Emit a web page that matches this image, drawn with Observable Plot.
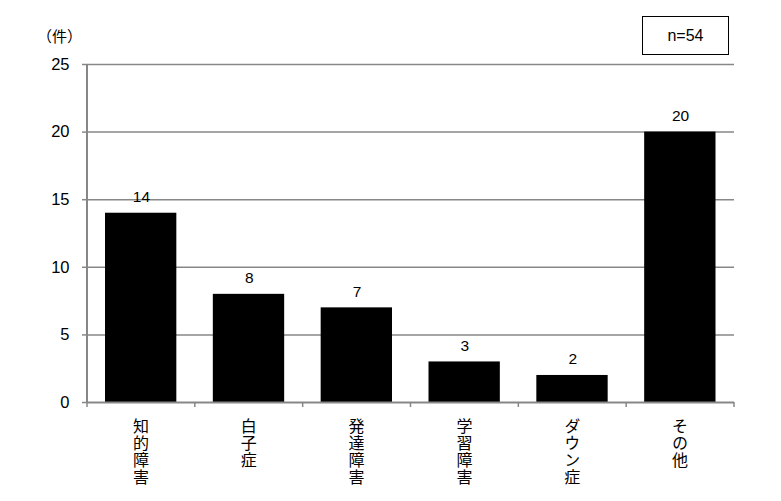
<!DOCTYPE html>
<html><head><meta charset="utf-8">
<script src="https://cdn.jsdelivr.net/npm/d3@7"></script>
<script src="https://cdn.jsdelivr.net/npm/@observablehq/plot@0.6"></script>
<style>
body{margin:0;background:#fff;}
#wrap{position:relative;width:781px;height:501px;}
#nbox{position:absolute;left:642px;top:16px;width:87px;height:39px;border:1.5px solid #000;box-sizing:border-box;
 font-family:"Liberation Sans Narrow","Liberation Sans",Arial,sans-serif;font-size:16px;display:flex;align-items:center;justify-content:center;}
</style></head>
<body><div id="wrap"><div id="nbox">n=54</div></div>
<script>
const categories = ["知的障害","白子症","発達障害","学習障害","ダウン症","その他"];
const counts = [14, 8, 7, 3, 2, 20];
const yTicks = [0, 5, 10, 15, 20, 25];
const unitLabel = "（件）";

const data = categories.map((c, i) => ({cat: c, n: counts[i]}));
const numFont = '"Liberation Sans Narrow","Liberation Sans",Arial,sans-serif';
const jpFont = '"Noto Sans CJK JP","Noto Sans CJK SC",sans-serif';
const grid = "#878787";

// boundary ticks, y-axis line and vertical category labels, placed with Plot's scales
const axisLines = (index, scales, values, dim) => {
  const g = d3.create("svg:g");
  const x = scales.x, y0 = scales.y(0), yTop = scales.y(25);
  const bw = x.bandwidth ? x.bandwidth() : (dim.width - dim.marginLeft - dim.marginRight) / categories.length;
  const xs = categories.map(c => x(c)).concat([x(categories[categories.length-1]) + bw]);
  g.selectAll("line.t").data(xs).join("line")
    .attr("x1", d => d).attr("x2", d => d).attr("y1", y0).attr("y2", y0 + 5)
    .attr("stroke", grid).attr("stroke-width", 1.5);
  g.append("line").attr("x1", xs[0]).attr("x2", xs[0]).attr("y1", yTop).attr("y2", y0)
    .attr("stroke", grid).attr("stroke-width", 2);
  g.selectAll("text").data(categories).join("text")
    .attr("x", c => x(c) + bw / 2).attr("y", y0 + 16)
    .attr("writing-mode", "vertical-rl")
    .style("writing-mode", "vertical-rl")
    .attr("text-anchor", "start")
    .attr("font-family", jpFont).attr("font-size", 16).attr("letter-spacing", 1)
    .attr("fill", "#000")
    .text(c => c);
  return g.node();
};

const chart = Plot.plot({
  width: 781, height: 501,
  marginLeft: 87, marginRight: 47, marginTop: 64, marginBottom: 99,
  style: {fontFamily: numFont, fontSize: "15px", color: "#000", background: "transparent"},
  x: {domain: categories, padding: 0, round: false, axis: null},
  y: {domain: [0, 25], ticks: yTicks, axis: null},
  marks: [
    Plot.ruleY(yTicks.filter(d => d > 0), {stroke: grid, strokeWidth: 1.5}),
    Plot.axisY({ticks: yTicks, tickSize: 5, tickPadding: 13, stroke: grid, strokeWidth: 1.5, fontSize: 16.5, label: null, strokeOpacity: 1}),
    Plot.barY(data, {x: "cat", y: "n", fill: "#000", insetLeft: 18, insetRight: 18.5}),
    Plot.ruleY([0], {stroke: grid, strokeWidth: 2}),
    axisLines,
    Plot.text(data, {x: "cat", y: "n", text: d => String(d.n), dy: -16, fontSize: 15.5, fontFamily: numFont}),
    Plot.text([unitLabel], {frameAnchor: "top-left", dx: -28, dy: -33, fontSize: 15, fontFamily: jpFont, textAnchor: "middle"})
  ]
});
document.getElementById("wrap").appendChild(chart);
</script>
</body></html>
